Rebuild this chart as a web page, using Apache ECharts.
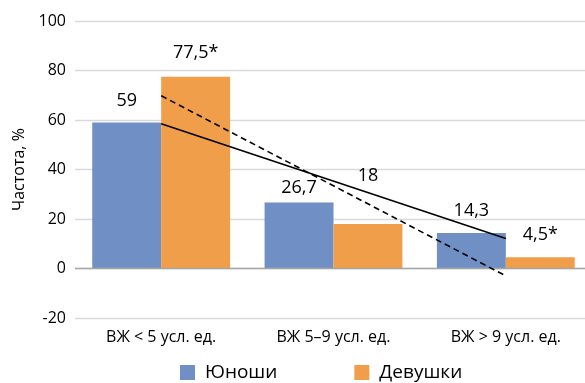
<!DOCTYPE html>
<html>
<head>
<meta charset="utf-8">
<script src="https://cdn.jsdelivr.net/npm/echarts@6/dist/echarts.min.js"></script>
<style>
  html, body { margin: 0; padding: 0; background: #fff; overflow: hidden; }
  #chart { width: 585px; height: 383px; }
</style>
</head>
<body>
<div id="chart"></div>
<script>
// Categories and measured frequencies (%)
const categories = ['ВЖ < 5 усл. ед.', 'ВЖ 5–9 усл. ед.', 'ВЖ > 9 усл. ед.'];
const boys = [59, 26.7, 14.3];
const girls = [77.5, 18, 4.5];
const boysLabels = ['59', '26,7', '14,3'];
const girlsLabels = ['77,5*', '18', '4,5*'];
// Linear trend end values (first and last category)
const boysTrend = [58.5, 12.1];
const girlsTrend = [69.8, -3];
const yTicks = { min: -20, max: 100, step: 20 };

// Extra lift of each value label above its bar, px
const boysLift = [13, 6, 13];
const girlsLift = [15, 39, 13];

const FONT = 'Open Sans';
const chart = echarts.init(document.getElementById('chart'), null, { renderer: 'canvas' });

function barData(values, labels, lifts) {
  return values.map((v, i) => ({
    value: v,
    label: { formatter: labels[i], distance: lifts[i] }
  }));
}

function trendData(ends) {
  return [[0, ends[0]], [categories.length - 1, ends[1]]];
}

const labelStyle = {
  show: true,
  position: 'top',
  color: '#000',
  fontFamily: FONT,
  fontSize: 18
};

chart.setOption({
  animation: false,
  textStyle: { fontFamily: FONT },
  // plot area runs a little past the right edge of the canvas
  grid: { left: 75, width: 517, top: 21, bottom: 65, containLabel: false, outerBoundsMode: 'none' },
  legend: {
    data: ['Юноши', 'Девушки'],
    left: 180,
    top: 363,
    padding: 0,
    itemWidth: 15,
    itemHeight: 15,
    itemGap: 77,
    icon: 'rect',
    textStyle: { fontFamily: FONT, fontSize: 19, color: '#000', padding: [0, 0, 0, 5] }
  },
  xAxis: {
    type: 'category',
    data: categories,
    axisLine: { show: false, onZero: false },
    axisTick: { show: false },
    axisLabel: { color: '#000', fontFamily: FONT, fontSize: 16, margin: 11 }
  },
  yAxis: {
    type: 'value',
    min: yTicks.min,
    max: yTicks.max,
    interval: yTicks.step,
    name: 'Частота, %',
    nameLocation: 'middle',
    nameRotate: 90,
    nameGap: 46,
    nameTextStyle: { color: '#000', fontFamily: FONT, fontSize: 16 },
    axisLine: { show: false },
    axisTick: { show: false },
    axisLabel: { color: '#000', fontFamily: FONT, fontSize: 16, margin: 9 },
    splitLine: { lineStyle: { color: '#d9d9d9', width: 1.3 } }
  },
  series: [
    {
      name: 'Юноши',
      type: 'bar',
      data: barData(boys, boysLabels, boysLift),
      itemStyle: { color: '#6F8FC5' },
      barGap: '0%',
      barCategoryGap: '20%',
      label: labelStyle,
      markLine: {
        silent: true,
        symbol: 'none',
        label: { show: false },
        lineStyle: { color: '#a6a6a6', width: 1.3, type: 'solid' },
        data: [{ yAxis: 0 }]
      },
      z: 2
    },
    {
      name: 'Девушки',
      type: 'bar',
      data: barData(girls, girlsLabels, girlsLift),
      itemStyle: { color: '#F19E4A' },
      label: labelStyle,
      z: 2
    },
    {
      name: 'Тренд (юноши)',
      type: 'line',
      data: trendData(boysTrend),
      symbol: 'none',
      lineStyle: { color: '#000', width: 1.6, type: 'solid' },
      z: 5
    },
    {
      name: 'Тренд (девушки)',
      type: 'line',
      data: trendData(girlsTrend),
      symbol: 'none',
      lineStyle: { color: '#000', width: 1.6, type: [6, 4] },
      z: 5
    }
  ]
});
</script>
</body>
</html>
